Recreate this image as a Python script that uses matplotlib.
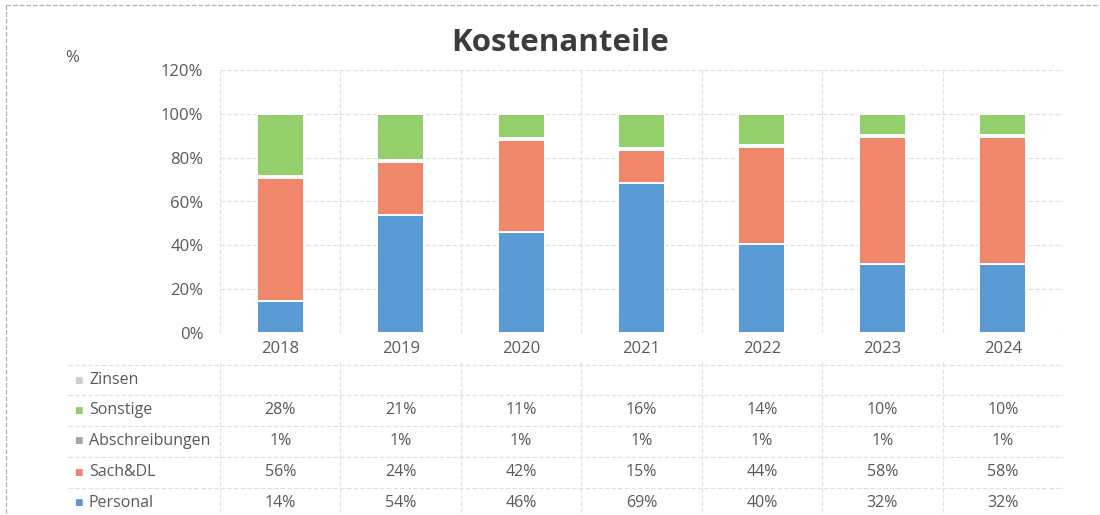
"""
Stacked column chart of cost shares per year with an Excel-style data table below.
"""

import matplotlib.pyplot as plt
from matplotlib.lines import Line2D

YEARS = ['2018', '2019', '2020', '2021', '2022', '2023', '2024']
# shares in percent; the table shows them rounded
PERSONAL = [14.4, 54.0, 46.0, 68.6, 40.4, 31.6, 31.6]
SACH_DL = [56.3, 24.0, 42.0, 14.9, 44.4, 57.8, 57.8]
ABSCHREIBUNGEN = [0.9, 1.0, 1.0, 0.9, 0.9, 0.9, 0.9]
SONSTIGE = [28.4, 21.0, 11.0, 15.6, 14.3, 9.7, 9.7]
ZINSEN = [None, None, None, None, None, None, None]

SERIES_NAMES = ['Personal', 'Sach&DL', 'Abschreibungen', 'Sonstige', 'Zinsen']
SERIES_COLORS = ['#5b9bd5', '#f0866a', '#a5a5a5', '#93cf6a', '#cfcfcf']

TEXT_COLOR = '#595959'
GRID_COLOR = '#e6e2d6'
W, H = 1100, 515


def fx(px):
    return px / W


def fy(py):
    return 1 - py / H


def plot_bars(ax, series):
    bottom = [0] * len(YEARS)
    x = list(range(len(YEARS)))
    for name, values, color in zip(SERIES_NAMES, series, SERIES_COLORS):
        vals = [v if v is not None else 0 for v in values]
        ax.bar(x, vals, bottom=bottom, width=0.39, color=color,
               edgecolor='white', linewidth=1.4, label=name, zorder=3)
        bottom = [b + v for b, v in zip(bottom, vals)]

    ax.set_xlim(-0.5, len(YEARS) - 0.5)
    ax.set_ylim(0, 120)
    ax.set_yticks(range(0, 121, 20))
    ax.set_yticklabels([f'{v}%' for v in range(0, 121, 20)])
    ax.set_xticks(x)
    ax.set_xticklabels(YEARS)
    ax.set_xticks([i - 0.5 for i in range(len(YEARS) + 1)], minor=True)
    ax.tick_params(axis='both', which='both', length=0, colors=TEXT_COLOR,
                   labelsize=12)
    ax.tick_params(axis='y', pad=12)
    ax.tick_params(axis='x', pad=6)
    ax.grid(axis='y', which='major', color=GRID_COLOR, linestyle='--',
            linewidth=0.9, zorder=0)
    ax.grid(axis='x', which='minor', color=GRID_COLOR, linestyle='--',
            linewidth=0.9, zorder=0)
    for spine in ax.spines.values():
        spine.set_visible(False)


def plot_table(fig, series):
    ax = fig.add_axes([fx(220), 0, fx(1063) - fx(220), fy(362)])
    ax.set_xlim(-0.5, len(YEARS) - 0.5)
    ax.set_ylim(H, 362)
    ax.axis('off')

    row_y = [503, 472, 441, 410, 380]
    line_y = [365, 395, 426, 457, 488]
    for y in line_y:
        fig.add_artist(Line2D([fx(68), fx(1063)], [fy(y), fy(y)],
                              color=GRID_COLOR, linestyle='--', linewidth=0.9))
    for i in range(len(YEARS) + 1):
        ax.plot([i - 0.5, i - 0.5], [362, H], color=GRID_COLOR,
                linestyle='--', linewidth=0.9)

    for name, values, color, y in zip(SERIES_NAMES, series, SERIES_COLORS, row_y):
        fig.text(fx(78), fy(y), '\u25A0', color=color, fontsize=6.5,
                 ha='center', va='center', family='DejaVu Sans')
        fig.text(fx(89), fy(y), name, color=TEXT_COLOR, fontsize=11.5,
                 ha='left', va='center', family='Open Sans')
        for i, v in enumerate(values):
            if v is None:
                continue
            ax.text(i, y, f'{v:.0f}%', color=TEXT_COLOR, fontsize=11.5,
                    ha='center', va='center', family='Open Sans')


def execute():
    plt.rcParams['font.family'] = ['Open Sans', 'DejaVu Sans']
    fig = plt.figure(figsize=(W / 100, H / 100), dpi=100)
    ax = fig.add_axes([fx(220), fy(333), fx(1063) - fx(220), fy(70) - fy(333)])

    series = [PERSONAL, SACH_DL, ABSCHREIBUNGEN, SONSTIGE, ZINSEN]
    plot_bars(ax, series)
    plot_table(fig, series)

    fig.text(fx(560), fy(43), 'Kostenanteile', fontsize=22.5, fontweight='bold',
             color='#3c3c3c', ha='center', va='center')
    fig.text(fx(72), fy(58), '%', fontsize=12, color=TEXT_COLOR,
             ha='center', va='center')

    # chart border (only top and left edges are visible in the frame)
    fig.add_artist(Line2D([fx(6), fx(6)], [fy(5), 0], color='#b0b0b0',
                          linestyle='--', linewidth=0.9))
    fig.add_artist(Line2D([fx(6), 1], [fy(5), fy(5)], color='#b0b0b0',
                          linestyle='--', linewidth=0.9))

    fig.savefig('out.png', dpi=100)


if __name__ == "__main__":
    execute()
